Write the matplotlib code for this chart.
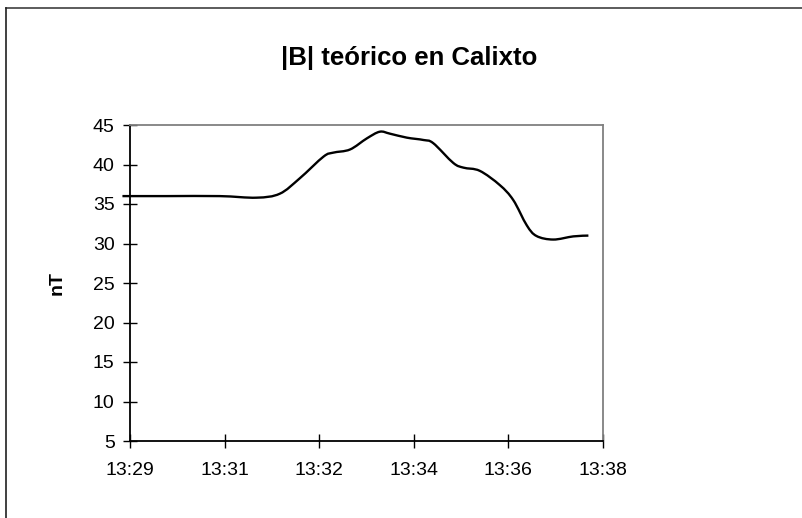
import numpy as np
import matplotlib
matplotlib.use('Agg')
import matplotlib.pyplot as plt
from matplotlib.lines import Line2D
from matplotlib.path import Path
from matplotlib.patches import PathPatch

# Data: minutes after 13:29 and |B| in nT.
minutes = [-0.14, 0.68, 1.66, 2.34, 2.77, 3.14, 3.58, 3.76, 4.07, 4.38, 4.62,
           4.81, 5.12, 5.43, 5.61, 5.98, 6.17, 6.47, 6.84, 7.09, 7.34, 7.52,
           7.83, 8.20, 8.48]
b_nt = [36.0, 36.0, 36.0, 35.8, 36.3, 38.25, 41.0, 41.5, 41.9, 43.3, 44.15,
        43.9, 43.4, 43.1, 42.7, 40.2, 39.6, 39.2, 37.4, 35.5, 32.3, 30.95,
        30.5, 30.9, 31.0]
x_ticks = [0.0, 1.75, 3.5, 5.25, 7.0, 8.75]
x_labels = ['13:29', '13:31', '13:32', '13:34', '13:36', '13:38']
y_ticks = [5, 10, 15, 20, 25, 30, 35, 40, 45]


def smooth_path(x, y, tension=1.0 / 6.0):
    """Excel-like smoothed line: Catmull-Rom segments as cubic Bezier curves."""
    pts = np.column_stack([x, y])
    verts = [pts[0]]
    codes = [Path.MOVETO]
    n = len(pts)
    for i in range(n - 1):
        p0 = pts[max(i - 1, 0)]
        p1 = pts[i]
        p2 = pts[i + 1]
        p3 = pts[min(i + 2, n - 1)]
        c1 = p1 + (p2 - p0) * tension
        c2 = p2 - (p3 - p1) * tension
        verts += [c1, c2, p2]
        codes += [Path.CURVE4] * 3
    return Path(verts, codes)


def main():
    plt.rcParams['font.family'] = ['Liberation Sans', 'DejaVu Sans']

    fig = plt.figure(figsize=(8.03, 5.18), dpi=100)
    ax = fig.add_axes([130 / 803, 1 - 441 / 518, 473 / 803, 316 / 518])

    # Smoothed series line (drawn in data coordinates).
    patch = PathPatch(smooth_path(minutes, b_nt), facecolor='none', edgecolor='black',
                      linewidth=1.7, joinstyle='round', capstyle='butt',
                      transform=ax.transData, clip_on=False, zorder=3)
    ax.add_patch(patch)

    ax.set_xlim(0.0, 8.75)
    ax.set_ylim(5, 45)
    ax.set_xticks(x_ticks)
    ax.set_xticklabels(x_labels)
    ax.set_yticks(y_ticks)

    ax.tick_params(direction='inout', length=10, width=1.0, labelsize=14,
                   colors='black')
    ax.tick_params(axis='x', pad=10)
    ax.tick_params(axis='y', pad=6)

    for side in ['left', 'bottom']:
        ax.spines[side].set_color('black')
        ax.spines[side].set_linewidth(1.3)
    for side in ['top', 'right']:
        ax.spines[side].set_color('#808080')
        ax.spines[side].set_linewidth(1.3)

    ax.set_ylabel('nT', fontsize=14, fontweight='bold')
    ax.yaxis.set_label_coords(-0.137, 0.5)

    fig.text(409 / 803, 1 - 65 / 518, '|B| teórico en Calixto',
             ha='center', va='baseline', fontsize=18.5, fontweight='bold')

    # Chart-area border (top and left edges visible).
    fig.add_artist(Line2D([6 / 803, 1.0], [1 - 8 / 518, 1 - 8 / 518],
                          transform=fig.transFigure, color='#404040', linewidth=1.2))
    fig.add_artist(Line2D([6 / 803, 6 / 803], [0.0, 1 - 8 / 518],
                          transform=fig.transFigure, color='#202020', linewidth=1.2))

    fig.savefig('out.png', dpi=100)


if __name__ == '__main__':
    main()
